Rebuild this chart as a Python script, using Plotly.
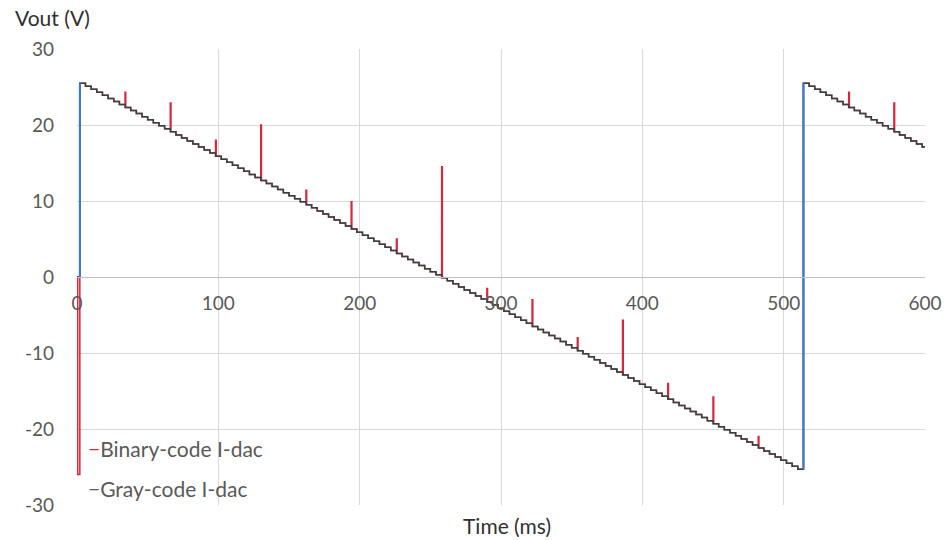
import plotly.graph_objects as go

# ---- data ----
ramp1_times = [
    2, 6, 10, 14, 18, 22, 26, 30, 34, 38, 42, 46, 50, 54, 58, 62,
    66, 70, 74, 78, 82, 86, 90, 94, 98, 102, 106, 110, 114, 118, 122, 126,
    130, 134, 138, 142, 146, 150, 154, 158, 162, 166, 170, 174, 178, 182, 186, 190,
    194, 198, 202, 206, 210, 214, 218, 222, 226, 230, 234, 238, 242, 246, 250, 254,
    258, 262, 266, 270, 274, 278, 282, 286, 290, 294, 298, 302, 306, 310, 314, 318,
    322, 326, 330, 334, 338, 342, 346, 350, 354, 358, 362, 366, 370, 374, 378, 382,
    386, 390, 394, 398, 402, 406, 410, 414, 418, 422, 426, 430, 434, 438, 442, 446,
    450, 454, 458, 462, 466, 470, 474, 478, 482, 486, 490, 494, 498, 502, 506, 510,
]
ramp1_levels = [
    25.5, 25.1, 24.7, 24.3, 23.9, 23.5, 23.1, 22.7, 22.3, 21.9, 21.5, 21.1, 20.7, 20.3, 19.9, 19.5,
    19.1, 18.7, 18.3, 17.9, 17.5, 17.1, 16.7, 16.3, 15.9, 15.5, 15.1, 14.7, 14.3, 13.9, 13.5, 13.1,
    12.7, 12.3, 11.9, 11.5, 11.1, 10.7, 10.3, 9.9, 9.5, 9.1, 8.7, 8.3, 7.9, 7.5, 7.1, 6.7,
    6.3, 5.9, 5.5, 5.1, 4.7, 4.3, 3.9, 3.5, 3.1, 2.7, 2.3, 1.9, 1.5, 1.1, 0.7, 0.3,
    -0.1, -0.5, -0.9, -1.3, -1.7, -2.1, -2.5, -2.9, -3.3, -3.7, -4.1, -4.5, -4.9, -5.3, -5.7, -6.1,
    -6.5, -6.9, -7.3, -7.7, -8.1, -8.5, -8.9, -9.3, -9.7, -10.1, -10.5, -10.9, -11.3, -11.7, -12.1, -12.5,
    -12.9, -13.3, -13.7, -14.1, -14.5, -14.9, -15.3, -15.7, -16.1, -16.5, -16.9, -17.3, -17.7, -18.1, -18.5, -18.9,
    -19.3, -19.7, -20.1, -20.5, -20.9, -21.3, -21.7, -22.1, -22.5, -22.9, -23.3, -23.7, -24.1, -24.5, -24.9, -25.3,
]
ramp2_times = [514, 518, 522, 526, 530, 534, 538, 542, 546, 550, 554,
               558, 562, 566, 570, 574, 578, 582, 586, 590, 594, 598]
ramp2_levels = [25.5, 25.1, 24.7, 24.3, 23.9, 23.5, 23.1, 22.7, 22.3, 21.9, 21.5,
                21.1, 20.7, 20.3, 19.9, 19.5, 19.1, 18.7, 18.3, 17.9, 17.5, 17.1]

start_time, start_level = 0, 0.0
end_time, end_level = 600, 17.1

# binary-code glitches (time, peak voltage)
glitch_times = [34, 66, 98, 130, 162, 194, 226, 258, 290, 322, 354, 386, 418, 450, 482, 546, 578]
glitch_tops = [24.3, 22.9, 18.0, 20.0, 11.4, 9.9, 5.0, 14.5, -1.5, -3.0, -8.0, -5.7, -14.0, -15.8, -21.0, 24.3, 22.9]
binary_start_dip_time, binary_start_dip = 0.5, -26.0

# reset (fast rise) segments
reset_times = [2, 2, None, 514, 514]
reset_levels = [0.0, 25.5, None, -25.3, 25.5]

x_ticks = [0, 100, 200, 300, 400, 500, 600]
x_tick_text = ["0", "100", "200", "300", "400", "500", "600"]
y_ticks = [-30, -20, -10, 0, 10, 20, 30]
y_tick_text = ["-30", "-20", "-10", "0", "10", "20", "30"]

# ---- build traces ----
step_times = ramp1_times + ramp2_times
step_levels = ramp1_levels + ramp2_levels

gray_x = [start_time] + step_times + [end_time]
gray_y = [start_level] + step_levels + [end_level]

glitch = dict(zip(glitch_times, glitch_tops))
bin_x = [start_time, binary_start_dip_time]
bin_y = [start_level, binary_start_dip]
for t, v in zip(step_times, step_levels):
    if t in glitch:
        bin_x += [t, t + 0.5]
        bin_y += [glitch[t], v]
    else:
        bin_x.append(t)
        bin_y.append(v)
bin_x.append(end_time)
bin_y.append(end_level)

RED = "#d7263d"
DARK = "#2f4640"
BLUE = "#3a7bd5"
TXT = "#595959"
FONT = "Lato, 'Open Sans', sans-serif"

fig = go.Figure()
fig.add_trace(go.Scatter(x=bin_x, y=bin_y, mode="lines", line=dict(color=RED, width=1.5, shape="hv"),
                         name="Binary-code I-dac", showlegend=False))
fig.add_trace(go.Scatter(x=gray_x, y=gray_y, mode="lines", line=dict(color=DARK, width=1.5, shape="hv"),
                         name="Gray-code I-dac", showlegend=False))
fig.add_trace(go.Scatter(x=reset_times, y=reset_levels, mode="lines", line=dict(color=BLUE, width=2),
                         showlegend=False, hoverinfo="skip"))

fig.update_layout(
    width=945, height=540,
    margin=dict(l=77, r=20, t=49, b=35),
    paper_bgcolor="white", plot_bgcolor="white",
    font=dict(family=FONT, size=19, color=TXT),
    showlegend=False,
    xaxis=dict(range=[0, 600], tickvals=x_ticks, ticktext=x_tick_text, showgrid=True,
               gridcolor="#d9d9d9", gridwidth=1,
               zeroline=False, showline=True, linecolor="#bfbfbf", linewidth=1,
               anchor="free", position=0.5, ticks="", ticklabelstandoff=9,
               tickfont=dict(size=19, color=TXT), automargin=False),
    yaxis=dict(range=[-30, 30], tickvals=y_ticks, ticktext=y_tick_text, showgrid=True,
               gridcolor="#d9d9d9", gridwidth=1,
               zeroline=False, showline=False, ticks="", ticklabelstandoff=22,
               tickfont=dict(size=19, color=TXT), automargin=False),
    annotations=[
        dict(text="Vout (V)", xref="paper", yref="paper", x=-0.075, y=1.070, xanchor="left", yanchor="middle",
             showarrow=False, font=dict(size=21, color="#303030")),
        dict(text="Time (ms)", xref="paper", yref="paper", x=0.507, y=-0.044, xanchor="center", yanchor="middle",
             showarrow=False, font=dict(size=21, color="#303030")),
        dict(text=f"<span style='color:{RED}'>−</span>Binary-code I-dac", xref="paper", yref="paper",
             x=0.011, y=0.123, xanchor="left", yanchor="middle", showarrow=False,
             font=dict(size=21, color=TXT)),
        dict(text=f"<span style='color:{TXT}'>−</span>Gray-code I-dac", xref="paper", yref="paper",
             x=0.011, y=0.037, xanchor="left", yanchor="middle", showarrow=False,
             font=dict(size=21, color=TXT)),
    ],
)

fig.write_html("out.html", config={"displayModeBar": False},
               post_script="document.body.style.margin='0px';")
